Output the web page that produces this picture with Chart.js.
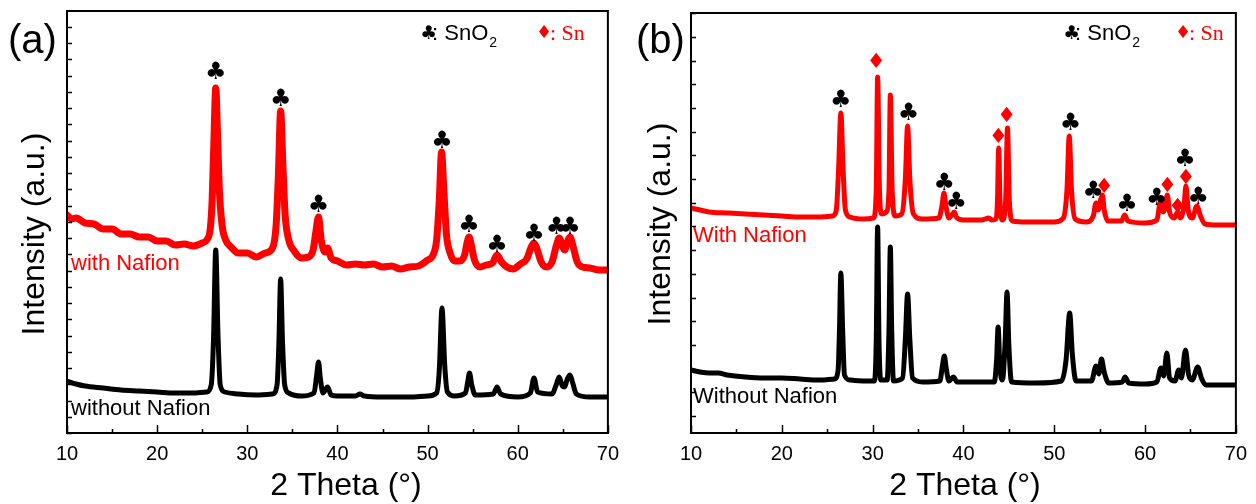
<!DOCTYPE html>
<html>
<head>
<meta charset="utf-8">
<script src="https://cdn.jsdelivr.net/npm/chart.js@4.4.1/dist/chart.umd.min.js"></script>
<style>
  html, body { margin: 0; padding: 0; background: #fff; }
  #wrap { display: flex; width: 1256px; height: 504px; }
  canvas { display: block; }
</style>
</head>
<body>
<div id="wrap">
  <canvas id="ca" width="628" height="504"></canvas>
  <canvas id="cb" width="628" height="504"></canvas>
</div>
<script>
// ---------- Panel (a) data : 2 Theta (deg) vs intensity (a.u.) ----------
const aRedX = [10,10.5,11,12,13,14,15,16,17,18,19,20,21,22,23,24,25,25.5,25.9,26.1,26.3,26.5,26.7,26.9,27.2,27.6,28.2,29,30,31,32,32.8,33.2,33.45,33.7,33.95,34.2,34.6,35.2,36,36.8,37.3,37.6,37.9,38.2,38.6,38.9,39.3,40,41,42,43,44,45,46,47,48,49,50,50.6,51,51.3,51.55,51.8,52.1,52.5,53,53.6,54.1,54.4,54.6,54.85,55.2,55.8,56.5,57.2,57.7,58.2,58.8,59.5,60.3,61,61.5,61.8,62.1,62.6,63.2,63.8,64.3,64.6,64.95,65.2,65.5,65.8,66.1,66.6,67.2,68,69,70];
const aRedY = [218,214,215,210,209,204,204,199,199,196,196,192,192,188,189,187,190,193,205,233,293,345,298,243,208,193,186,180,180,176,180,185,208,258,322,268,218,193,182,175,176,183,201,216,193,181,185,175,172,168,169,168,169,166,167,164,166,167,173,178,193,233,281,243,198,180,172,172,178,191,196,188,173,166,168,170,178,171,166,164,169,174,186,190,185,171,166,171,188,195,187,183,191,196,188,171,166,165,163,163];
const aBlkX = [10,11,12,14,16,18,20,22,24,25.5,26,26.25,26.5,26.75,27,27.5,29,31,32.8,33.3,33.5,33.7,33.9,34.15,34.6,36,37.4,37.7,37.9,38.1,38.4,38.9,39.3,40,42,42.5,43,45,48,50,51,51.3,51.6,51.9,52.2,53,54.2,54.45,54.65,54.9,55.3,57.3,57.7,58.1,60,61.4,61.8,62.2,63.8,64.3,64.6,64.95,65.2,65.5,65.8,66.1,66.5,68,70];
const aBlkY = [52,49,47,45,43,42,41,40,40,41,48,93,183,98,48,41,39,38,39,48,88,154,93,48,40,37,40,58,71,55,40,46,38,37,37,39,37,36,36,37,40,63,125,68,41,37,40,51,60,48,38,39,46,39,36,40,55,41,39,49,56,47,46,54,58,50,39,36,36];
const aClubX = [26.5,33.7,37.9,51.6,54.6,57.7,61.8,64.3,65.8];
const aClubY = [360,333,227,291,207,187,198,205,205];

// ---------- Panel (b) data ----------
const bRedX = [10,11,12,14,16,18,20,22,24,25.6,26,26.25,26.5,26.75,27,27.5,29,30.1,30.4,30.55,30.75,31,31.5,31.8,31.95,32.15,32.5,33.2,33.6,33.85,34.1,34.5,35.5,37.3,37.65,37.85,38.05,38.4,38.8,39,39.2,40,42,42.8,43.1,43.6,43.75,43.88,44.02,44.3,44.65,44.85,45.05,45.4,47,50,51,51.4,51.65,51.9,52.3,53.5,54.3,54.6,54.85,55.1,55.3,55.5,55.9,57.4,57.75,58.1,60,61.3,61.7,62,62.2,62.45,62.7,63.2,63.6,63.9,64.3,64.5,64.75,65.2,65.7,66.1,66.6,68,70];
const bRedY = [225,223,221,220,219,218,217,216,216,217,223,263,320,263,223,216,214,215,243,356,243,219,221,243,338,243,217,219,253,307,253,219,214,215,228,240,228,215,219,221,216,213,213,215,213,214,233,285,233,213,233,305,233,212,211,211,215,243,297,243,214,211,217,230,223,233,238,223,212,212,218,212,210,213,231,221,225,238,221,215,221,215,228,247,223,215,227,217,209,208,208];
const bBlkX = [10,11,12,13,14,16,18,20,22,24,25.8,26.2,26.35,26.5,26.7,26.9,27.5,29,30.2,30.4,30.55,30.7,30.9,31.6,31.8,31.95,32.1,32.3,33.3,33.6,33.85,34.1,34.4,35.5,37.4,37.7,37.9,38.1,38.4,38.9,39.3,42,43.4,43.65,43.82,44,44.3,44.6,44.8,45,45.3,48,50.8,51.3,51.7,52,52.4,54.1,54.6,54.9,55.2,55.5,56,57.5,57.8,58.2,60,61.3,61.75,62.05,62.4,62.7,63.3,63.7,64,64.45,64.8,65.2,65.8,66.2,66.7,68,70];
const bBlkY = [63,61,60,60,58,56,55,55,54,53,54,63,103,160,103,58,53,52,52,93,206,93,53,53,103,186,103,52,55,93,139,93,55,51,52,68,77,65,52,56,51,51,51,73,106,68,53,93,141,88,51,50,52,73,120,78,52,52,67,59,74,61,50,51,56,50,49,51,65,57,80,55,52,63,55,83,58,53,66,55,48,48,48];
const bClubX = [26.5,33.95,37.9,39.2,51.8,54.3,58.0,61.3,64.4,65.85];
const bClubY = [332,319,249,230,309,241,228,234,273,235];
const bDiaX = [30.4,43.86,44.77,55.5,62.46,63.6,64.5];
const bDiaY = [370,295,316,245,246,225,254];

// ---------- Axis / tick definitions ----------
const xTickStep = 10;
const xMinorStep = 5;
const aYTickStep = 16.25;
const bYTickStart = 17;
const bYTickStep = 23.7;

const SANS = "'Liberation Sans', Arial, sans-serif";
const SERIF = "'Liberation Serif', 'Times New Roman', serif";
const SYM = "'DejaVu Sans', sans-serif";

function pts(xs, ys) { return xs.map((x, i) => ({ x: x, y: ys[i] })); }

function decoPlugin(cfg) {
  return {
    id: 'deco',
    afterDraw(chart) {
      const { ctx, chartArea: a, scales: { x, y } } = chart;
      ctx.save();
      ctx.strokeStyle = '#000';
      ctx.lineWidth = 2;
      ctx.strokeRect(a.left, a.top, a.right - a.left, a.bottom - a.top);
      // x ticks (inward)
      ctx.lineWidth = 1.5;
      for (let v = x.min; v <= x.max + 1e-9; v += xMinorStep) {
        const px = Math.round(x.getPixelForValue(v)) + 0.5;
        const len = (Math.abs(v % xTickStep) < 1e-9) ? 8 : 4;
        ctx.beginPath(); ctx.moveTo(px, a.bottom); ctx.lineTo(px, a.bottom - len); ctx.stroke();
      }
      // y ticks (inward)
      y.ticks.forEach(t => {
        const py = Math.round(y.getPixelForValue(t.value)) + 0.5;
        ctx.beginPath(); ctx.moveTo(a.left, py); ctx.lineTo(a.left + 5, py); ctx.stroke();
      });
      // peak markers
      ctx.textAlign = 'center';
      ctx.textBaseline = 'middle';
      ctx.font = '24px ' + SYM;
      ctx.fillStyle = '#000';
      cfg.clubX.forEach((v, i) => ctx.fillText('\u2663', x.getPixelForValue(v), y.getPixelForValue(cfg.clubY[i])));
      if (cfg.diaX) {
        ctx.fillStyle = '#ff0000';
        ctx.font = '21px ' + SYM;
        cfg.diaX.forEach((v, i) => ctx.fillText('\u2666', x.getPixelForValue(v), y.getPixelForValue(cfg.diaY[i])));
      }
      // panel letter
      ctx.textAlign = 'left';
      ctx.textBaseline = 'alphabetic';
      ctx.fillStyle = '#000';
      ctx.font = '40px ' + SANS;
      ctx.fillText(cfg.letter, 8, 53);
      // legend
      ctx.font = '19px ' + SYM;
      ctx.fillText('\u2663', cfg.legX, 39);
      ctx.font = '22px ' + SANS;
      const s1 = ': SnO';
      ctx.fillText(s1, cfg.legX + 12, 40);
      const w1 = ctx.measureText(s1).width;
      ctx.font = '14px ' + SANS;
      ctx.fillText('2', cfg.legX + 12 + w1 + 1, 47);
      ctx.fillStyle = '#ff0000';
      ctx.font = '18px ' + SYM;
      ctx.fillText('\u2666', cfg.leg2X, 38);
      ctx.font = '22px ' + SERIF;
      ctx.fillText(': Sn', cfg.leg2X + 14, 40);
      // curve labels
      ctx.font = '22px ' + SANS;
      ctx.fillStyle = '#ff0000';
      ctx.fillText(cfg.redLabel, cfg.labX, cfg.redLabY);
      ctx.fillStyle = '#000';
      ctx.fillText(cfg.blkLabel, cfg.labX, cfg.blkLabY);
      // axis titles
      ctx.font = '32px ' + SANS;
      ctx.textAlign = 'center';
      ctx.fillText('2 Theta (\u00B0)', cfg.xTitleX, 495);
      ctx.save();
      ctx.translate(cfg.yTitleX, cfg.yTitleY);
      ctx.rotate(-Math.PI / 2);
      ctx.textBaseline = 'middle';
      ctx.fillText('Intensity (a.u.)', 0, 0);
      ctx.restore();
      ctx.restore();
    }
  };
}

function makeChart(id, cfg) {
  return new Chart(document.getElementById(id), {
    type: 'line',
    data: {
      datasets: [
        { data: pts(cfg.blkX, cfg.blkY), borderColor: '#000', borderWidth: cfg.blkW, pointRadius: 0,
          cubicInterpolationMode: 'monotone', borderJoinStyle: 'round', borderCapStyle: 'round', fill: false },
        { data: pts(cfg.redX, cfg.redY), borderColor: '#ff0000', borderWidth: cfg.redW, pointRadius: 0,
          cubicInterpolationMode: 'monotone', borderJoinStyle: 'round', borderCapStyle: 'round', fill: false }
      ]
    },
    options: {
      responsive: false,
      animation: false,
      events: [],
      layout: { padding: { left: 0, top: cfg.padTop, right: cfg.padRight, bottom: 0 } },
      plugins: { legend: { display: false }, tooltip: { enabled: false } },
      scales: {
        x: {
          type: 'linear', min: 10, max: 70,
          grid: { display: false, drawTicks: false },
          border: { display: false },
          ticks: { stepSize: xTickStep, color: '#000', font: { size: 20, family: SANS }, padding: 9, maxRotation: 0 },
          afterFit: s => { s.height = 71; }
        },
        y: {
          min: 0, max: cfg.yMax,
          grid: { display: false, drawTicks: false },
          border: { display: false },
          ticks: { display: false },
          afterBuildTicks: cfg.yTicks,
          afterFit: s => { s.width = cfg.yWidth; }
        }
      }
    },
    plugins: [decoPlugin(cfg)]
  });
}

makeChart('ca', {
  redX: aRedX, redY: aRedY, blkX: aBlkX, blkY: aBlkY, redW: 7, blkW: 5,
  clubX: aClubX, clubY: aClubY,
  padTop: 11, padRight: 17, yWidth: 67, yMax: 422,
  yTicks: s => { const t = []; for (let v = 0; v <= s.max; v += aYTickStep) t.push({ value: v }); s.ticks = t; },
  letter: '(a)', legX: 420, leg2X: 536,
  redLabel: 'with Nafion', blkLabel: 'without Nafion', labX: 71, redLabY: 270, blkLabY: 415,
  xTitleX: 346, yTitleX: 35, yTitleY: 234
});

makeChart('cb', {
  redX: bRedX, redY: bRedY, blkX: bBlkX, blkY: bBlkY, redW: 5, blkW: 5,
  clubX: bClubX, clubY: bClubY, diaX: bDiaX, diaY: bDiaY,
  padTop: 13, padRight: 16, yWidth: 63, yMax: 420,
  yTicks: s => { const t = []; for (let v = bYTickStart; v <= s.max; v += bYTickStep) t.push({ value: v }); s.ticks = t; },
  letter: '(b)', legX: 435, leg2X: 547,
  redLabel: 'With Nafion', blkLabel: 'Without Nafion', labX: 65, redLabY: 242, blkLabY: 403,
  xTitleX: 337, yTitleX: 33, yTitleY: 224
});
</script>
</body>
</html>
